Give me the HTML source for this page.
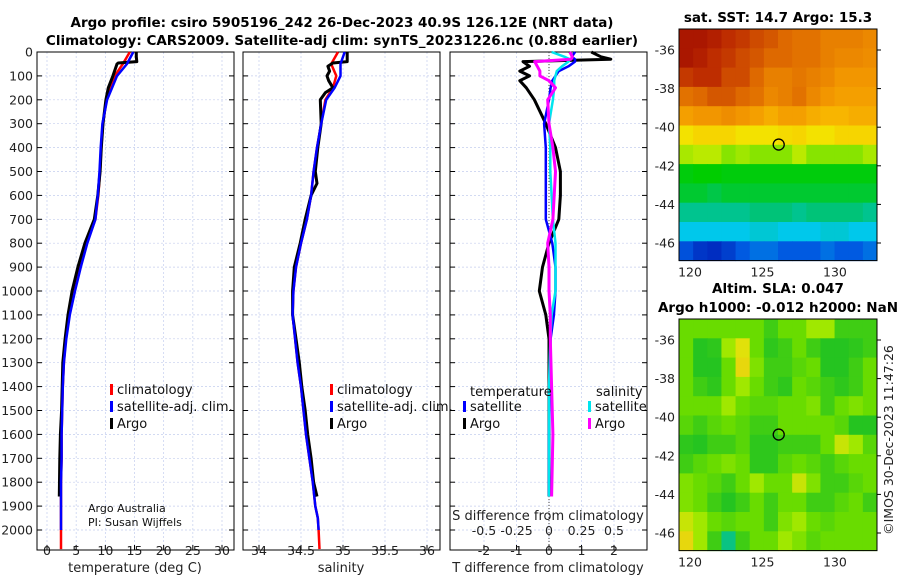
<!DOCTYPE html>
<html><head><meta charset="utf-8"><style>
html,body{margin:0;padding:0;background:#fff;}
svg{display:block;font-family:"DejaVu Sans","Liberation Sans",sans-serif;}
</style></head><body>
<svg id="fig" width="900" height="580" viewBox="0 0 900 580" xmlns="http://www.w3.org/2000/svg">
<g font-weight="bold" font-size="13.5" text-anchor="middle" fill="#000">
<text x="342" y="27">Argo profile: csiro 5905196_242 26-Dec-2023 40.9S 126.12E (NRT data)</text>
<text x="342" y="45">Climatology: CARS2009. Satellite-adj clim: synTS_20231226.nc (0.88d earlier)</text>
<text x="778" y="22">sat. SST: 14.7 Argo: 15.3</text>
<text x="778" y="293">Altim. SLA: 0.047</text>
<text x="778" y="312">Argo h1000: -0.012 h2000: NaN</text>
</g>
<text x="893" y="440" font-size="12.5" text-anchor="middle" transform="rotate(-90 893 440)" fill="#222">©IMOS 30-Dec-2023 11:47:26</text>
<g id="plots"></g>
</svg>
<script>
// ---- profile data ----
const depthT = [0,20,40,46,50,100,150,200,300,400,500,600,700,800,900,1000,1100,1200,1300,1400,1500,1600,1700,1860];
const tempArgo = [15.3,15.3,15.4,12.2,12.0,11.3,10.5,10.1,9.6,9.3,9.1,8.7,8.1,6.5,5.3,4.3,3.6,3.1,2.7,2.6,2.5,2.3,2.2,2.1];
const depthC = [0,50,100,200,300,400,500,600,700,800,900,1000,1100,1200,1300,1400,1500,1600,1700,1800,1900,2000,2080];
const tempClim = [14.2,13.0,11.6,10.2,9.6,9.3,9.1,8.8,8.3,6.8,5.6,4.6,3.8,3.2,2.9,2.7,2.6,2.5,2.5,2.4,2.4,2.4,2.4];
const tempSat = [14.8,13.7,12.0,10.3,9.5,9.2,9.0,8.7,8.3,6.9,5.8,4.8,3.9,3.3,2.9,2.7,2.6,2.5,2.5,2.4,2.4,2.4,2.4];
const depthS = [0,40,46,60,80,100,120,150,170,200,300,400,500,550,600,700,800,900,1000,1100,1200,1300,1400,1500,1600,1700,1800,1860];
const salArgo = [35.05,35.05,34.88,34.82,34.84,34.81,34.83,34.88,34.79,34.73,34.74,34.70,34.67,34.69,34.62,34.55,34.49,34.42,34.40,34.40,34.44,34.48,34.51,34.55,34.58,34.62,34.65,34.69];
const salClim = [34.94,34.86,34.92,34.88,34.79,34.74,34.69,34.65,34.62,34.57,34.50,34.44,34.41,34.40,34.43,34.46,34.50,34.53,34.56,34.60,34.64,34.67,34.70,34.71,34.72];
const salClimDepth = [0,50,100,150,200,300,400,500,600,700,800,900,1000,1100,1200,1300,1400,1500,1600,1700,1800,1900,1950,2000,2080];
const salSat = [35.02,34.97,34.97,34.90,34.80,34.74,34.69,34.65,34.62,34.57,34.50,34.44,34.41,34.40,34.43,34.46,34.50,34.53,34.56,34.60,34.64,34.67,34.70,34.71,34.72];
// ---- difference data ----
const diffDepth = [0,20,30,40,60,80,100,120,150,200,300,400,500,600,700,800,900,1000,1100,1200,1400,1600,1860];
const tDiffArgo = [1.3,1.6,1.9,-0.8,-0.6,-0.9,-0.6,-0.9,-0.7,-0.45,-0.1,0.2,0.35,0.35,0.3,0.0,-0.2,-0.3,-0.1,0.0,0.0,0.0,0.0];
const tDiffSat = [0.8,0.7,0.8,0.8,0.6,0.3,0.2,0.1,0.05,0.0,-0.15,-0.1,-0.1,-0.1,-0.1,0.1,0.2,0.2,0.15,0.05,0.02,0.0,0.0];
const sDiffArgo = [0.16,0.18,0.17,-0.11,-0.09,-0.07,-0.07,0.0,0.05,-0.01,0.0,0.03,0.05,0.04,0.03,-0.01,0.0,0.0,0.01,0.01,0.02,0.03,0.02];
const sDiffSat = [0.02,0.12,0.16,0.15,0.1,0.06,0.05,0.04,0.04,0.03,0.0,0.01,0.01,0.02,0.03,0.05,0.05,0.05,0.02,0.01,0.0,0.0,0.0];
// ---- map data (rows -35..-46 lat, cols 119.2..133 lon) ----
const sstGrid = [
[20.5,20.5,20.3,20,19.8,19.5,19.3,19,18.8,18.8,18.5,18.5,18.5,18.3],
[20.5,20.3,20,19.8,19.5,19.3,19,19,18.8,18.8,18.5,18.3,18.3,18.2],
[19.8,20,20,19.5,19.5,19,18.5,18.5,18.7,18.5,18.3,18,18,18],
[18.8,19,19.3,19.3,19,18.8,18.3,18.5,18.8,18.3,18,17.8,17.8,17.8],
[17.8,18,18,18.2,18,17.8,17.5,17.8,17.8,17.5,17.3,17.3,17.5,17.5],
[16.3,16.6,16.6,16.6,16.3,16.3,16.3,16.5,16.6,16.3,16.3,16.6,16.6,16.6],
[15.2,15.4,15.4,14.9,15.1,14.9,14.9,14.9,15.4,14.9,14.9,14.9,14.9,15.2],
[13.9,14,14,13.9,13.9,13.9,13.9,13.9,13.9,13.9,13.9,13.9,13.9,13.9],
[13.6,13.6,13.4,13.6,13.6,13.6,13.6,13.6,13.6,13.6,13.6,13.6,13.6,13.6],
[12.8,12.8,12.8,12.8,12.8,13,13,13,12.8,13,13,13,13,12.8],
[12,12,12,12,12,12.2,12.2,12,12,12,12.2,12.2,12,12],
[10.9,10.6,10.5,10.7,11,11.2,11.2,11,11,11,11.2,11,11,11.2]];
const slaGrid = [
[2,2,2,2,2,2,1.5,2,2,2.5,2.5,1.5,1.5,1.5],
[2,1.2,1.3,2.5,3,2,1.3,1.5,2,1.5,1.2,1.2,1.3,1.5],
[2,1.2,1.2,2,3.3,2.2,1.5,1.5,1.8,2,1.2,1.2,1.5,2],
[2,1.5,1.3,2,2.5,2,1.5,1.3,2,1.8,1.5,1.3,1.5,2],
[2,2,2,2.5,2,1.8,1.8,2,2,2.2,1.5,2,2.2,2],
[1.8,1.5,1.8,2,1.8,1.5,1.5,2,2,2,2,1.8,1.2,1.2],
[1.3,1.2,1.5,1.5,1.8,1.3,1.3,1.5,1.5,1.5,2,2.8,2.5,1.8],
[1.5,1.8,2,2.2,2,1.3,1.3,1.8,2,1.8,1.5,1.8,2,2],
[2.2,2,1.8,1.5,2,2.5,2,2,2.8,2.2,1.5,1.5,1.8,2],
[2.2,2,1.5,1.2,1.5,2,1.5,2,2,1.5,1.5,1.8,2,1.5],
[2.8,2.5,2,1.8,2,2,1.5,2.2,2.5,2,1.8,2,2,2],
[3.3,2.5,1.5,0.5,1.5,2,2,2.5,2.2,1.8,2,2,2,2]];
const floatLon = 126.12, floatLat = -40.9;
const depthTicks = [0,100,200,300,400,500,600,700,800,900,1000,1100,1200,1300,1400,1500,1600,1700,1800,1900,2000];
const tTicks = [0,5,10,15,20,25,30];
const sTicks = [34,34.5,35,35.5,36];
const sTickLabels = ["34","34.5","35","35.5","36"];
const dTTicks = [-2,-1,0,1,2];
const dSTicks = [-0.5,-0.25,0,0.25,0.5];
const dSTickLabels = ["-0.5","-0.25","0","0.25","0.5"];
const latTicks = [-36,-38,-40,-42,-44,-46];
const lonTicks = [120,125,130];

const NS = "http://www.w3.org/2000/svg";
const root = document.getElementById("plots");
function mk(tag, attrs, parent, txt){
  const e = document.createElementNS(NS, tag);
  for (const k in attrs) e.setAttribute(k, attrs[k]);
  if (txt !== undefined) e.textContent = txt;
  (parent || root).appendChild(e);
  return e;
}
const Y0 = 52, Y1 = 550;
function yD(d){ return Y0 + d * (530 - 52) / 2000; }
function lin(d0, d1, r0, r1){ return v => r0 + (v - d0) * (r1 - r0) / (d1 - d0); }

function panel(name, x0, x1, xs, ticks, labels, showY){
  const g = mk("g", {});
  
  
  ticks.forEach(t => { const l = mk("line", {x1:xs(t), x2:xs(t), y1:Y0, y2:Y1, stroke:"#c4cdee", "stroke-width":0.7, "stroke-dasharray":"2,2"}, g);
      });
  depthTicks.forEach(d => { const l = mk("line", {x1:x0, x2:x1, y1:yD(d), y2:yD(d), stroke:"#c4cdee", "stroke-width":0.7, "stroke-dasharray":"2,2"}, g);
     
    const a = mk("line", {x1:x0, x2:x0+5, y1:yD(d), y2:yD(d), stroke:"#000"}, g);
     
    const b = mk("line", {x1:x1-5, x2:x1, y1:yD(d), y2:yD(d), stroke:"#000"}, g);
     
    if (showY){ const t = mk("text", {x:x0-4, y:yD(d)+4.5, "font-size":12.5, "text-anchor":"end", fill:"#222"}, g, String(d));
        }
  });
  ticks.forEach((t,i) => {
    const a = mk("line", {x1:xs(t), x2:xs(t), y1:Y1-5, y2:Y1, stroke:"#000"}, g);
     
    if (labels){ const tx = mk("text", {x:xs(t), y:555, "font-size":12.5, "text-anchor":"middle", fill:"#222"}, g, labels[i]);
        }
  });
  const fr = mk("rect", {x:x0, y:Y0, width:x1-x0, height:Y1-Y0, fill:"none", stroke:"#000", "stroke-width":1}, g);
   
  return g;
}
function series(g, xs, vals, depths, color, width, name){
  const pts = vals.map((v,i) => xs(v).toFixed(1) + "," + yD(depths[i]).toFixed(1)).join(" ");
  const p = mk("polyline", {points:pts, fill:"none", stroke:color, "stroke-width":width, "stroke-linejoin":"round"}, g);
  
  
}
function legend(g, x, y, color, label, name){
  const r = mk("rect", {x:x, y:y-8, width:3, height:11, fill:color}, g);
   
  const t = mk("text", {x:x+7, y:y+2, "font-size":13, fill:"#111"}, g, label);
   
}
function xlabel(g, x, y, s, name){
  const t = mk("text", {x:x, y:y, "font-size":13, "text-anchor":"middle", fill:"#222"}, g, s);
   
}

// Panel 1 temperature
const xT = lin(0, 30, 47, 222);
const g1 = panel("temperature-panel", 37, 234, xT, tTicks, tTicks.map(String), true);
series(g1, xT, tempClim, depthC, "#ff0000", 2.5, "temperature-climatology-line");
series(g1, xT, tempArgo, depthT, "#000", 3, "temperature-argo-line");
series(g1, xT, tempSat.slice(0, 22), depthC.slice(0, 22), "#0000ff", 2.5, "temperature-satellite-line");
legend(g1, 110, 392, "#ff0000", "climatology", "legend-climatology");
legend(g1, 110, 409, "#0000ff", "satellite-adj. clim.", "legend-satellite");
legend(g1, 110, 426, "#000", "Argo", "legend-argo");
xlabel(g1, 135, 572, "temperature (deg C)", "temperature-axis-title");
const c1 = mk("text", {x:88, y:512, "font-size":11, fill:"#111"}, g1, "Argo Australia");
 
const c2 = mk("text", {x:88, y:526, "font-size":11, fill:"#111"}, g1, "PI: Susan Wijffels");
 

// Panel 2 salinity
const xS = lin(34, 36, 259, 427);
const g2 = panel("salinity-panel", 243, 440, xS, sTicks, sTickLabels, false);
series(g2, xS, salClim, salClimDepth, "#ff0000", 2.5, "salinity-climatology-line");
series(g2, xS, salArgo, depthS, "#000", 3, "salinity-argo-line");
series(g2, xS, salSat.slice(0, 24), salClimDepth.slice(0, 24), "#0000ff", 2.5, "salinity-satellite-line");
legend(g2, 330, 392, "#ff0000", "climatology", "legend-climatology");
legend(g2, 330, 409, "#0000ff", "satellite-adj. clim.", "legend-satellite");
legend(g2, 330, 426, "#000", "Argo", "legend-argo");
xlabel(g2, 341, 572, "salinity", "salinity-axis-title");

// Panel 3 differences
const xDT = lin(-2, 2, 484, 614);
const xDS = lin(-0.5, 0.5, 484, 614);
const g3 = panel("difference-panel", 450, 647, xDT, dTTicks, dTTicks.map(String), false);
const zl = mk("line", {x1:xDT(0), x2:xDT(0), y1:Y0, y2:Y1, stroke:"#444", "stroke-width":1, "stroke-dasharray":"1,2"}, g3);
 
series(g3, xDT, tDiffArgo, diffDepth, "#000", 3, "t-diff-argo-line");
series(g3, xDT, tDiffSat, diffDepth, "#0000ff", 2.5, "t-diff-satellite-line");
series(g3, xDS, sDiffSat, diffDepth, "#00e5ee", 2.5, "s-diff-satellite-line");
series(g3, xDS, sDiffArgo, diffDepth, "#ff00ff", 3, "s-diff-argo-line");
const lt = mk("text", {x:470, y:396, "font-size":13, fill:"#111"}, g3, "temperature");
 
const ls = mk("text", {x:596, y:396, "font-size":13, fill:"#111"}, g3, "salinity");
 
legend(g3, 463, 409, "#0000ff", "satellite", "legend-t-satellite");
legend(g3, 463, 426, "#000", "Argo", "legend-t-argo");
legend(g3, 588, 409, "#00e5ee", "satellite", "legend-s-satellite");
legend(g3, 588, 426, "#ff00ff", "Argo", "legend-s-argo");
xlabel(g3, 548, 520, "S difference from climatology", "s-diff-axis-title");
dSTicks.forEach((t,i) => { const tx = mk("text", {x:xDS(t), y:535, "font-size":12.5, "text-anchor":"middle", fill:"#222"}, g3, dSTickLabels[i]);
    });
xlabel(g3, 548, 572, "T difference from climatology", "t-diff-axis-title");

// ---- maps ----
function rampC(stops, v){
  if (v <= stops[0][0]) return "rgb(" + stops[0][1].join(",") + ")";
  for (let i = 1; i < stops.length; i++){
    if (v <= stops[i][0]){
      const a = stops[i-1], b = stops[i], f = (v - a[0]) / (b[0] - a[0]);
      return "rgb(" + [0,1,2].map(k => Math.round(a[1][k] + f*(b[1][k]-a[1][k]))).join(",") + ")";
    }
  }
  return "rgb(" + stops[stops.length-1][1].join(",") + ")";
}
const sstStops = [[10,[0,0,160]],[11,[0,90,225]],[12,[0,200,235]],[13,[0,195,120]],[14,[0,205,0]],[15,[150,230,0]],[16,[240,240,0]],[17,[250,195,0]],[18,[242,150,0]],[19,[222,105,0]],[20,[190,45,0]],[21,[150,0,0]]];
const slaStops = [[0,[0,200,220]],[1,[20,190,40]],[2,[105,220,0]],[2.5,[160,232,0]],[3,[225,225,10]],[4,[245,190,20]]];
const MX0 = 679, MX1 = 877, lon0 = 119.24, lon1 = 132.9;
const xLon = lin(lon0, lon1, MX0, MX1);
function map(name, grid, stops, top, lat36y){
  const g = mk("g", {});
  
  
  const pxDeg = 19.3;
  const yLat = lat => lat36y + (-36 - lat) * pxDeg;
  const latTop = -36 + (lat36y - top) / pxDeg;
  const rows = grid.length, cols = grid[0].length;
  const cw = (MX1 - MX0) / cols;
  grid.forEach((row, i) => row.forEach((v, j) => {
    const y0 = yLat(latTop - i), y1 = yLat(latTop - i - 1);
    const r = mk("rect", {x:(MX0 + j*cw).toFixed(2), y:y0.toFixed(2), width:(cw+0.5).toFixed(2), height:(y1-y0+0.5).toFixed(2), fill:rampC(stops, v)}, g);
    
    
  }));
  const bottom = yLat(latTop - rows);
  const fr = mk("rect", {x:MX0, y:top, width:MX1-MX0, height:bottom-top, fill:"none", stroke:"#000"}, g);
   
  latTicks.forEach(l => {
    const t = mk("text", {x:MX0-4, y:yLat(l)+4.5, "font-size":12.5, "text-anchor":"end", fill:"#222"}, g, String(l));
     
    const a = mk("line", {x1:MX1, x2:MX1+4, y1:yLat(l), y2:yLat(l), stroke:"#000"}, g);
     
  });
  lonTicks.forEach(l => {
    const t = mk("text", {x:xLon(l), y:bottom+16, "font-size":12.5, "text-anchor":"middle", fill:"#222"}, g, String(l));
     
  });
  const c = mk("circle", {cx:xLon(floatLon), cy:yLat(floatLat), r:5.5, fill:"none", stroke:"#000", "stroke-width":1.3}, g);
   
}
map("sst-map", sstGrid, sstStops, 29, 50);
map("sla-map", slaGrid, slaStops, 319, 340);
</script>
</body></html>
